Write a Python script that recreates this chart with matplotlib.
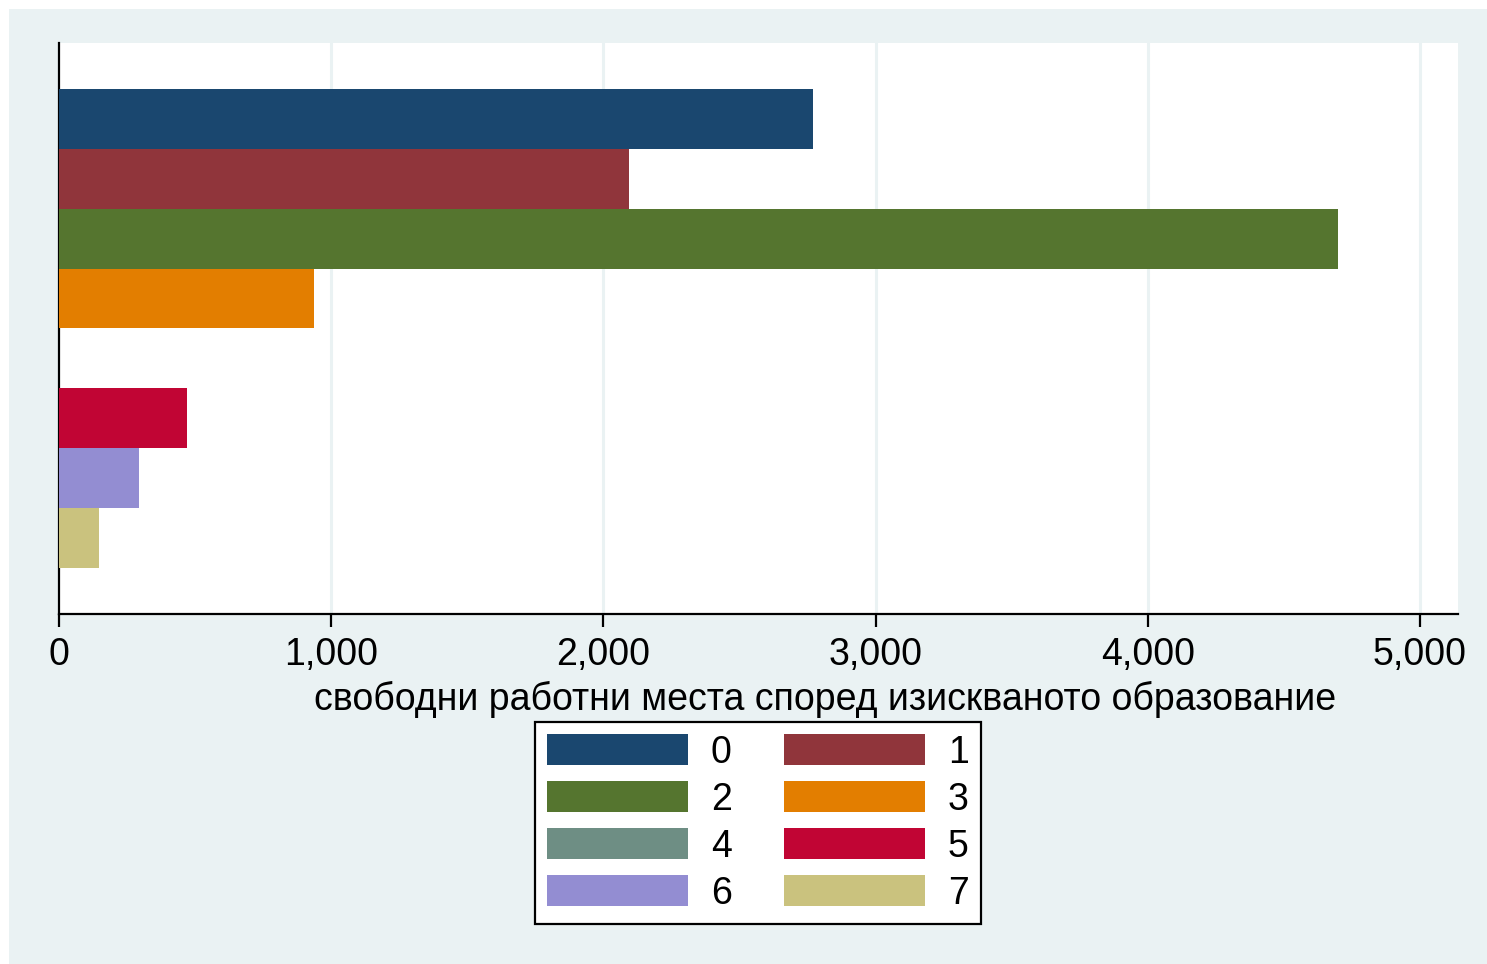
import numpy as np
import matplotlib
matplotlib.use("Agg")
import matplotlib.pyplot as plt
from matplotlib.patches import Rectangle, Patch

plt.rcParams['font.family'] = ['Liberation Sans', 'DejaVu Sans']

# education level codes and vacancies per level (level 4 has no bar)
levels = ['0', '1', '2', '3', '4', '5', '6', '7']
vacancies = [2770, 2094, 4699, 937, 0, 470, 294, 147]
colors = ['#1A476F', '#90353B', '#55752F', '#E37E00',
          '#6E8E84', '#C10534', '#938DD2', '#CAC27E']
xticks = [0, 1000, 2000, 3000, 4000, 5000]
xlabel = 'свободни работни места според изискваното образование'

W, H = 1487, 964
fig = plt.figure(figsize=(W / 100, H / 100), dpi=100, facecolor='white')
bg = '#EAF2F3'
fig.patches.append(Rectangle((9 / W, 0), 1, 1 - 9 / H, transform=fig.transFigure,
                             facecolor=bg, edgecolor='none', zorder=-10))

ax = fig.add_axes([59 / W, 1 - 614 / H, (1458 - 59) / W, (614 - 43) / H])
ax.set_facecolor('white')

pos = np.arange(len(levels))
ax.barh(pos, vacancies, height=1.0, color=colors, linewidth=0, zorder=3)

ax.set_xlim(0, 5140)
ax.set_ylim(8.268, -1.268)
ax.set_xticks(xticks)
ax.set_xticklabels(['{:,}'.format(t) for t in xticks], fontsize=27)
ax.set_yticks([])
for t in xticks[1:]:
    ax.axvline(t, color=bg, linewidth=2.2, zorder=1)

for s in ['top', 'right']:
    ax.spines[s].set_visible(False)
ax.spines['left'].set_linewidth(1.6)
ax.spines['bottom'].set_linewidth(1.6)
ax.tick_params(axis='x', length=9.5, width=1.6, pad=7)
ax.set_xlabel(xlabel, fontsize=27, labelpad=6)
ax.xaxis.label.set_x((825.5 - 59) / (1458 - 59))

# legend is filled row by row: 0 1 / 2 3 / 4 5 / 6 7
order = [0, 2, 4, 6, 1, 3, 5, 7]
handles = [Patch(facecolor=colors[i], edgecolor='none') for i in order]
labels = [levels[i] for i in order]
leg = fig.legend(handles, labels, loc='center', ncol=2,
                 bbox_to_anchor=((531 + 985) / 2 / W, 1 - (722 + 924) / 2 / H),
                 fontsize=27, frameon=True, fancybox=False, edgecolor='black',
                 facecolor='white', framealpha=1,
                 handlelength=3.76, handleheight=0.9, handletextpad=0.6,
                 columnspacing=1.4, labelspacing=0.28, borderpad=0.33,
                 borderaxespad=0)
leg.get_frame().set_linewidth(1.6)

fig.savefig('out.png', dpi=100, facecolor=fig.get_facecolor())
